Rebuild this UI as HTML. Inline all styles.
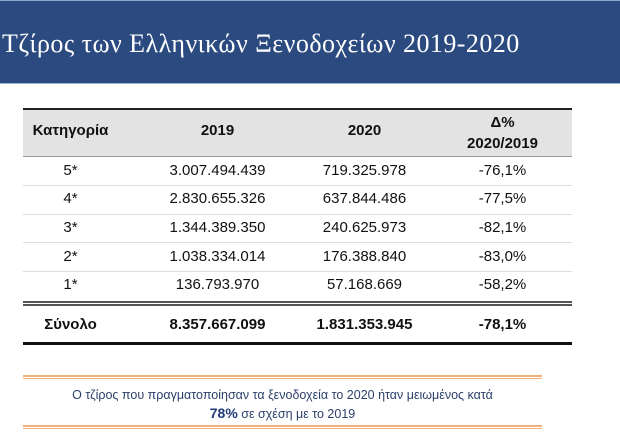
<!DOCTYPE html>
<html><head><meta charset="utf-8"><style>
body{margin:0;width:620px;height:445px;background:#fff;position:relative;overflow:hidden;font-family:"Liberation Sans","DejaVu Sans",sans-serif;}
.ban{position:absolute;left:0;top:0;width:620px;height:84px;background:#2b4a80;border-top:1px solid #8fa6cc;border-bottom:1px solid #9fb3d6;box-sizing:border-box}
.ttl{position:absolute;left:2px;top:28px;color:#fff;font-family:"Liberation Serif","DejaVu Serif",serif;font-size:26px;letter-spacing:0.45px;white-space:nowrap}
.t{position:absolute;font-size:15px;color:#111;text-align:center;white-space:nowrap}
.b{font-weight:bold}
.ln{position:absolute;left:23px;width:549px}
</style></head><body>
<div class="ban"><div class="ttl">Τζίρος των Ελληνικών Ξενοδοχείων 2019-2020</div></div>
<div class="ln" style="top:108px;height:46px;background:#e3e3e3;border-top:2px solid #222;border-bottom:1px solid #999"></div>
<div class="t b" style="left:23px;width:95px;top:122px">Κατηγορία</div>
<div class="t b" style="left:170px;width:95px;top:122px">2019</div>
<div class="t b" style="left:317px;width:95px;top:122px">2020</div>
<div class="t b" style="left:455px;width:95px;top:112px;line-height:21px">Δ%<br>2020/2019</div>

<div class="ln" style="top:185px;height:1px;background:#ddd"></div>
<div class="ln" style="top:214px;height:1px;background:#ddd"></div>
<div class="ln" style="top:242px;height:1px;background:#ddd"></div>
<div class="ln" style="top:271px;height:1px;background:#ddd"></div>

<div class="t" style="left:23px;width:95px;top:162px">5*</div><div class="t" style="left:150px;width:135px;top:162px">3.007.494.439</div><div class="t" style="left:297px;width:135px;top:162px">719.325.978</div><div class="t" style="left:455px;width:95px;top:162px">-76,1%</div>
<div class="t" style="left:23px;width:95px;top:190px">4*</div><div class="t" style="left:150px;width:135px;top:190px">2.830.655.326</div><div class="t" style="left:297px;width:135px;top:190px">637.844.486</div><div class="t" style="left:455px;width:95px;top:190px">-77,5%</div>
<div class="t" style="left:23px;width:95px;top:219px">3*</div><div class="t" style="left:150px;width:135px;top:219px">1.344.389.350</div><div class="t" style="left:297px;width:135px;top:219px">240.625.973</div><div class="t" style="left:455px;width:95px;top:219px">-82,1%</div>
<div class="t" style="left:23px;width:95px;top:248px">2*</div><div class="t" style="left:150px;width:135px;top:248px">1.038.334.014</div><div class="t" style="left:297px;width:135px;top:248px">176.388.840</div><div class="t" style="left:455px;width:95px;top:248px">-83,0%</div>
<div class="t" style="left:23px;width:95px;top:276px">1*</div><div class="t" style="left:150px;width:135px;top:276px">136.793.970</div><div class="t" style="left:297px;width:135px;top:276px">57.168.669</div><div class="t" style="left:455px;width:95px;top:276px">-58,2%</div>

<div class="ln" style="top:301px;height:1px;border-top:2px solid #555;border-bottom:2px solid #555"></div>
<div class="t b" style="left:23px;width:95px;top:316px">Σύνολο</div><div class="t b" style="left:150px;width:135px;top:316px">8.357.667.099</div><div class="t b" style="left:297px;width:135px;top:316px">1.831.353.945</div><div class="t b" style="left:455px;width:95px;top:316px">-78,1%</div>
<div class="ln" style="top:342px;height:3px;background:#111"></div>

<div style="position:absolute;left:23px;width:519px;top:375px;height:1px;border-top:2px solid #f0b27a;border-bottom:1px solid #f0b27a"></div>
<div style="position:absolute;left:23px;width:519px;top:386px;text-align:center;font-size:12.5px;color:#2b3f6b;line-height:18px">Ο τζίρος που πραγματοποίησαν τα ξενοδοχεία το 2020 ήταν μειωμένος κατά<br><b style="font-size:14px;color:#1f3a78">78%</b> σε σχέση με το 2019</div>
<div style="position:absolute;left:23px;width:519px;top:425px;height:1px;border-top:2px solid #f0b27a;border-bottom:1px solid #f0b27a"></div>
</body></html>
